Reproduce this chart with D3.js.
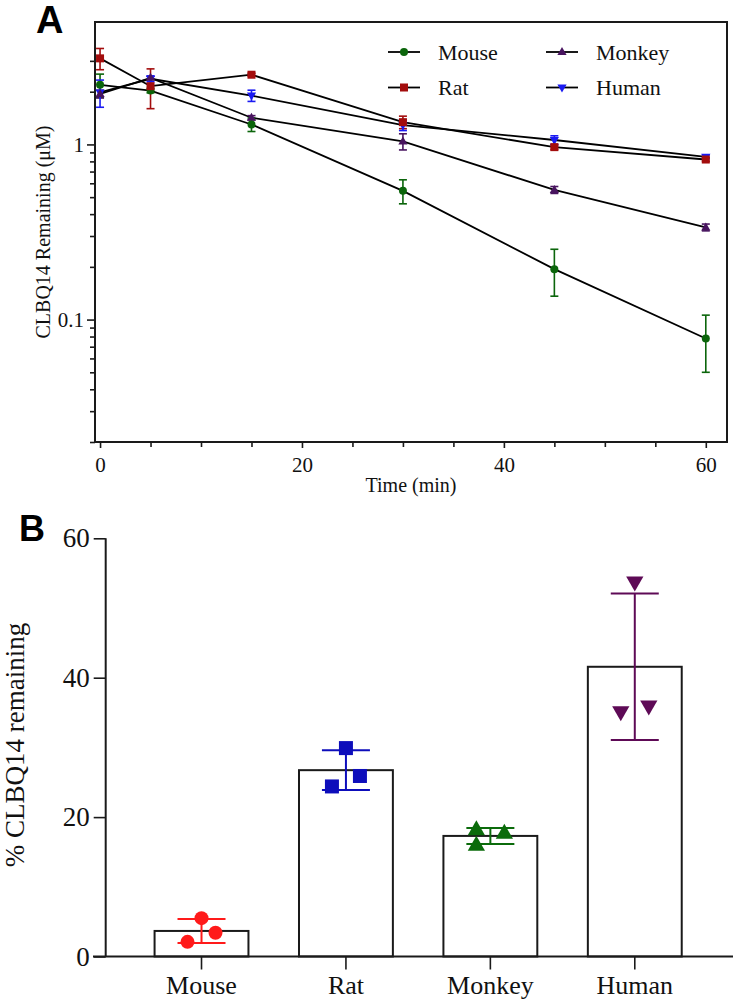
<!DOCTYPE html>
<html><head><meta charset="utf-8">
<script src="https://cdn.jsdelivr.net/npm/d3@7"></script>
<style>body{margin:0;background:#fff}svg{display:block}text{font-family:'Liberation Serif','Times New Roman',serif}</style>
</head><body>
<svg id="c" width="735" height="1004"></svg>
<script>
// ---------- Panel A data ----------
const times = [0, 5, 15, 30, 45, 60];
const seriesNames = ["Mouse", "Rat", "Monkey", "Human"];
const mouseMean  = [2.19, 2.03, 1.30, 0.543, 0.194, 0.078];
const mouseSD    = [0.33, 0.06, 0.115, 0.085, 0.058, 0.028];
const ratMean    = [3.10, 2.15, 2.50, 1.34, 0.965, 0.82];
const ratSD      = [0.43, 0.55, 0.05, 0.11, 0.03, 0.02];
const monkeyMean = [1.94, 2.40, 1.42, 1.04, 0.55, 0.336];
const monkeySD   = [0.10, 0.05, 0.04, 0.11, 0.025, 0.015];
const humanMean  = [1.98, 2.37, 1.90, 1.29, 1.06, 0.85];
const humanSD    = [0.35, 0.09, 0.14, 0.09, 0.06, 0.02];
const xTicksMajorA = [0, 20, 40, 60];
const xTicksMinorA = [5, 10, 15, 25, 30, 35, 45, 50, 55];
const yTicksMajorA = [0.1, 1];
const yTickLabelsA = ["0.1", "1"];
const yTicksMinorA = [0.02,0.03,0.04,0.05,0.06,0.07,0.08,0.09,0.2,0.3,0.4,0.5,0.6,0.7,0.8,0.9,2,3];

// ---------- Panel B data ----------
const categories = ["Mouse", "Rat", "Monkey", "Human"];
const mousePts  = [5.5, 3.4, 2.1];
const ratPts    = [29.9, 25.9, 24.4];
const monkeyPts = [18.2, 17.7, 16.0];
const humanPts  = [53.7, 35.1, 35.9];
const jitterSlots = [[0, 1, -1], [0, 1, -1], [-1, 1, -1], [0, -1, 1]];
const yTicksB = [0, 20, 40, 60];

// ---------- styles ----------
const serif = "'Liberation Serif', 'Times New Roman', serif";
const sans = "'Liberation Sans', Arial, sans-serif";
const colA = {Mouse:"#0b650b", Rat:"#a30d0d", Monkey:"#48145f", Human:"#1a1af2"};
const shapeOf = {Mouse:"circle", Rat:"square", Monkey:"up", Human:"down"};
const colB = {Mouse:"#ff1a1a", Rat:"#0d0dbb", Monkey:"#0b6b0b", Human:"#5e0a56"};
const ink = "#1a1a1a";

const svg = d3.select("#c");

function serifText(sel, size) {
  return sel.attr("font-family", serif).style("font-family", serif).style("font-size", size + "px").attr("fill", "#111");
}

function marker(g, shape, x, y, s, color) {
  if (shape === "circle") {
    g.append("circle").attr("cx", x).attr("cy", y).attr("r", s/2).attr("fill", color);
  } else if (shape === "square") {
    g.append("rect").attr("x", x - s/2).attr("y", y - s/2).attr("width", s).attr("height", s).attr("fill", color);
  } else {
    const w = s * 1.15, h = s;
    const p = shape === "up"
      ? `M${x},${y - h*0.62}L${x + w/2},${y + h*0.38}L${x - w/2},${y + h*0.38}Z`
      : `M${x},${y + h*0.62}L${x + w/2},${y - h*0.38}L${x - w/2},${y - h*0.38}Z`;
    g.append("path").attr("d", p).attr("fill", color);
  }
}

function styleAxis(g) {
  g.attr("font-family", serif);
  g.select(".domain").remove();
  g.selectAll(".tick line").attr("stroke", ink).attr("stroke-width", 1.6);
  g.selectAll(".tick text").attr("fill", "#111").attr("font-family", serif).style("font-family", serif);
}

// ================= PANEL A =================
const xA = d3.scaleLinear().domain([-0.5, 62.1]).range([95, 727]);
const yA = d3.scaleLog().domain([0.02, 5]).range([442, 22]);

const seriesA = [
  {name:"Mouse", mean:mouseMean, sd:mouseSD},
  {name:"Rat", mean:ratMean, sd:ratSD},
  {name:"Monkey", mean:monkeyMean, sd:monkeySD},
  {name:"Human", mean:humanMean, sd:humanSD}
];

const gA = svg.append("g");

gA.append("g").attr("transform", "translate(0,442)")
  .call(d3.axisBottom(xA).tickValues(xTicksMajorA).tickSize(6).tickPadding(9).tickFormat(d3.format("d")))
  .call(styleAxis).call(g => g.selectAll("text").style("font-size", "21px"));
gA.append("g").attr("transform", "translate(0,442)")
  .call(d3.axisBottom(xA).tickValues(xTicksMinorA).tickSize(5).tickFormat(""))
  .call(styleAxis);
gA.append("g").attr("transform", "translate(95,0)")
  .call(d3.axisLeft(yA).tickValues(yTicksMajorA).tickSize(8).tickPadding(3)
        .tickFormat((d, i) => yTickLabelsA[i]))
  .call(styleAxis).call(g => g.selectAll("text").style("font-size", "21px"));
gA.append("g").attr("transform", "translate(95,0)")
  .call(d3.axisLeft(yA).tickValues(yTicksMinorA).tickSize(5).tickFormat(""))
  .call(styleAxis);

// frame
gA.append("rect").attr("x", 95).attr("y", 22).attr("width", 632).attr("height", 420)
  .attr("fill", "none").attr("stroke", ink).attr("stroke-width", 2);

// lines
const line = d3.line().x((d, i) => xA(times[i])).y(d => yA(d));
seriesA.forEach(s => {
  gA.append("path").attr("d", line(s.mean)).attr("fill", "none")
    .attr("stroke", "#000").attr("stroke-width", 1.8);
});
// error bars
seriesA.forEach(s => {
  const c = colA[s.name];
  s.mean.forEach((m, i) => {
    const x = xA(times[i]), y1 = yA(m + s.sd[i]), y2 = yA(Math.max(m - s.sd[i], 0.021));
    gA.append("line").attr("x1", x).attr("x2", x).attr("y1", y1).attr("y2", y2).attr("stroke", c).attr("stroke-width", 1.6);
    [y1, y2].forEach(yy => gA.append("line").attr("x1", x - 4).attr("x2", x + 4).attr("y1", yy).attr("y2", yy).attr("stroke", c).attr("stroke-width", 1.6));
  });
});
// markers
["Human", "Monkey", "Mouse", "Rat"].forEach(n => {
  const s = seriesA.find(d => d.name === n);
  s.mean.forEach((m, i) => marker(gA, shapeOf[n], xA(times[i]), yA(m), 8, colA[n]));
});

// legend
const legPos = [[388, 52], [388, 87.5], [546, 52], [546, 87.5]];
seriesNames.forEach((n, i) => {
  const [lx, ly] = legPos[i];
  gA.append("line").attr("x1", lx).attr("x2", lx + 32).attr("y1", ly).attr("y2", ly).attr("stroke", "#000").attr("stroke-width", 1.8);
  marker(gA, shapeOf[n], lx + 16, ly, 8, colA[n]);
  serifText(gA.append("text").attr("x", lx + 50).attr("y", ly + 7.5).text(n), 22);
});

// titles
serifText(gA.append("text").attr("x", 411).attr("y", 492).attr("text-anchor", "middle").text("Time (min)"), 20);
serifText(gA.append("text").attr("transform", "translate(50,232) rotate(-90)").attr("text-anchor", "middle")
  .text("CLBQ14 Remaining (\u03BCM)"), 20);
gA.append("text").attr("x", 36).attr("y", 33).text("A")
  .attr("font-family", sans).style("font-family", sans).style("font-weight", "bold").style("font-size", "38px").attr("fill", "#000");

// ================= PANEL B =================
const gB = svg.append("g");
const xB = d3.scaleBand().domain(categories).range([129.3, 707]).paddingInner(0.35).paddingOuter(0.175);
const yB = d3.scaleLinear().domain([0, 60]).range([956.5, 538.3]);
const ptsB = [mousePts, ratPts, monkeyPts, humanPts];

// bars
categories.forEach((c, i) => {
  const m = d3.mean(ptsB[i]);
  gB.append("rect").attr("x", xB(c)).attr("y", yB(m)).attr("width", xB.bandwidth()).attr("height", yB(0) - yB(m))
    .attr("fill", "#fff").attr("stroke", ink).attr("stroke-width", 2);
});
// error bars + points
categories.forEach((c, i) => {
  const m = d3.mean(ptsB[i]), sd = d3.deviation(ptsB[i]);
  const cx = xB(c) + xB.bandwidth() / 2, col = colB[c];
  const y1 = yB(m + sd), y2 = yB(m - sd);
  gB.append("line").attr("x1", cx).attr("x2", cx).attr("y1", y1).attr("y2", y2).attr("stroke", col).attr("stroke-width", 2);
  [y1, y2].forEach(yy => gB.append("line").attr("x1", cx - 24).attr("x2", cx + 24).attr("y1", yy).attr("y2", yy).attr("stroke", col).attr("stroke-width", 2));
  ptsB[i].forEach((v, j) => {
    const shp = shapeOf[c];
    marker(gB, shp, cx + jitterSlots[i][j] * 14, yB(v), shp === "circle" || shp === "square" ? 14 : 15, col);
  });
});

// axes B
gB.append("line").attr("x1", 93).attr("x2", 733).attr("y1", yB(0)).attr("y2", yB(0)).attr("stroke", ink).attr("stroke-width", 2);
gB.append("line").attr("x1", 105.7).attr("x2", 105.7).attr("y1", yB(60)).attr("y2", yB(0)).attr("stroke", ink).attr("stroke-width", 2);
gB.append("g").attr("transform", "translate(105.7,0)")
  .call(d3.axisLeft(yB).tickValues(yTicksB).tickSize(12).tickPadding(4).tickFormat(d3.format("d")))
  .call(styleAxis).call(g => g.selectAll("text").style("font-size", "27px"));
gB.append("g").attr("transform", `translate(0,${yB(0)})`)
  .call(d3.axisBottom(xB).tickSize(13).tickPadding(6))
  .call(styleAxis).call(g => g.selectAll("text").style("font-size", "26px"));

serifText(gB.append("text").attr("transform", "translate(24,745) rotate(-90)").attr("text-anchor", "middle")
  .text("% CLBQ14 remaining"), 27);
gB.append("text").attr("x", 19).attr("y", 541).text("B")
  .attr("font-family", sans).style("font-family", sans).style("font-weight", "bold").style("font-size", "36px").attr("fill", "#000");
</script>
</body></html>
